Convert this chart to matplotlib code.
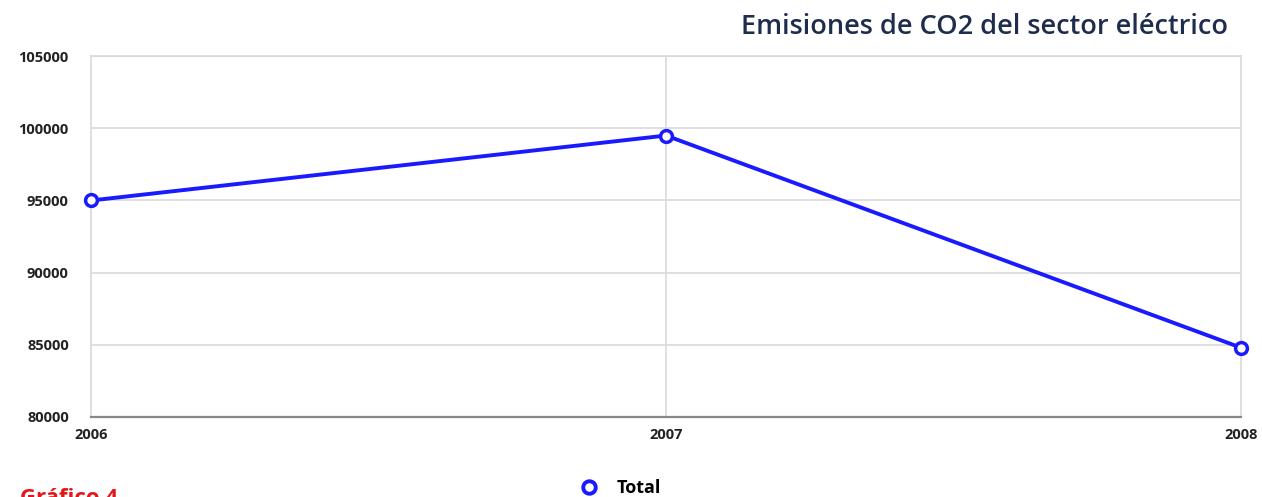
import matplotlib.pyplot as plt
from matplotlib.lines import Line2D

years = ['2006', '2007', '2008']
total = [95000, 99500, 84800]
yticks = [80000, 85000, 90000, 95000, 100000, 105000]

plt.rcParams['font.family'] = ['Open Sans', 'DejaVu Sans']

fig = plt.figure(figsize=(12.62, 4.97), dpi=100)
ax = fig.add_axes([0.0721, 0.161, 0.9113, 0.726])

x = list(range(len(years)))
ax.plot(x, total, color='#1a1aff', lw=2.8, marker='o', markersize=8.5,
        markerfacecolor='white', markeredgecolor='#1a1aff', markeredgewidth=2.5,
        zorder=3, clip_on=False)

ax.set_xlim(0, len(years) - 1)
ax.set_ylim(80000, 105000)
ax.set_yticks(yticks)
ax.set_yticklabels([str(v) for v in yticks], fontsize=10.5, fontweight='bold', color='#222222')
ax.set_xticks(x)
ax.set_xticklabels(years, fontsize=10.5, fontweight='bold', color='#222222')
ax.tick_params(axis='both', length=0)
ax.tick_params(axis='y', pad=16)
ax.tick_params(axis='x', pad=8)

ax.grid(axis='y', color='#d9d9d9', lw=1.2)
ax.axvline(1, color='#d9d9d9', lw=1.2, zorder=1)
for side in ['left', 'top', 'right']:
    ax.spines[side].set_color('#d9d9d9')
    ax.spines[side].set_linewidth(1.2)
ax.spines['bottom'].set_color('#888888')
ax.spines['bottom'].set_linewidth(1.6)

fig.text(0.973, 0.945, 'Emisiones de CO2 del sector eléctrico', ha='right', va='center',
         fontsize=19.5, fontweight='semibold', color='#1f2d4d')

handle = Line2D([], [], ls='none', marker='o', markersize=9, markerfacecolor='white',
                markeredgecolor='#1a1aff', markeredgewidth=2.8)
fig.legend([handle], ['Total'], loc='center', bbox_to_anchor=(0.488, 0.018), frameon=False,
           prop={'weight': 'bold', 'size': 13}, handletextpad=0.5)

fig.text(0.016, -0.003, 'Gráfico 4', ha='left', va='center', fontsize=16,
         fontweight='bold', color='#e3161b')

fig.savefig('out.png', dpi=100)
